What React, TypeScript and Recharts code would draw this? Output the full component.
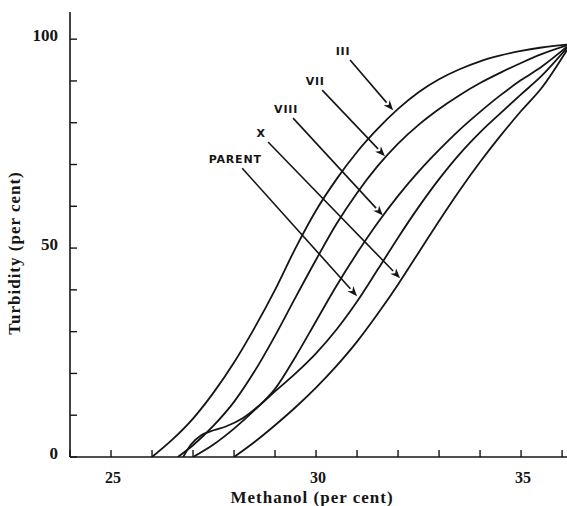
import React from 'react';
import { LineChart, Line, XAxis, YAxis, ReferenceLine } from 'recharts';

// Methanol (per cent) / Turbidity (per cent) for each fraction
const III_X = [26.0, 26.5, 27.0, 27.5, 28.0, 28.5, 29.0, 29.5, 30.0, 30.5, 31.0, 31.5, 32.0, 32.5, 33.0, 33.5, 34.0, 34.5, 35.0, 35.5, 36.12];
const III_Y = [0, 4.2, 9.2, 15.4, 22.6, 30.9, 40.0, 50.0, 59.0, 66.5, 73.0, 78.5, 83.3, 87.3, 90.4, 92.8, 94.7, 96.1, 97.2, 98.0, 98.7];

const VII_X = [26.63, 27.0, 27.5, 28.0, 28.5, 29.0, 29.5, 30.0, 30.5, 31.0, 31.5, 32.0, 32.5, 33.0, 33.5, 34.0, 34.5, 35.0, 35.5, 36.12];
const VII_Y = [0, 2.8, 7.5, 13.2, 20.5, 29.0, 38.2, 47.2, 55.8, 63.2, 69.6, 75.0, 79.5, 83.3, 86.6, 89.5, 92.0, 94.3, 96.4, 98.5];

const VIII_X = [27.0, 27.5, 28.0, 28.5, 29.0, 29.5, 30.0, 30.5, 31.0, 31.5, 32.0, 32.5, 33.0, 33.5, 34.0, 34.5, 35.0, 35.5, 36.12];
const VIII_Y = [0, 3.0, 6.8, 11.2, 16.3, 24.0, 32.5, 41.0, 48.8, 56.0, 62.5, 68.3, 73.5, 78.3, 82.6, 86.6, 90.2, 93.4, 98.2];

const PARENT_X = [26.76, 26.95, 27.2, 27.5, 27.8, 28.2, 28.6, 29.0, 29.5, 30.0, 30.5, 31.0, 31.5, 32.0, 32.5, 33.0, 33.5, 34.0, 34.5, 35.0, 35.5, 36.12];
const PARENT_Y = [0, 3.0, 5.2, 6.4, 7.3, 9.2, 12.2, 15.7, 20.0, 24.8, 30.5, 37.2, 44.8, 52.5, 59.8, 66.5, 72.5, 77.7, 82.3, 86.8, 91.2, 97.9];

const X_X = [28.0, 28.5, 29.0, 29.5, 30.0, 30.5, 31.0, 31.5, 32.0, 32.5, 33.0, 33.5, 34.0, 34.5, 35.0, 35.5, 36.12];
const X_Y = [0, 3.6, 7.6, 11.9, 16.6, 21.8, 27.6, 34.2, 41.3, 48.9, 56.5, 63.8, 70.6, 76.9, 82.8, 88.3, 97.4];

const X_TICKS = [24, 25, 26, 27, 28, 29, 30, 31, 32, 33, 34, 35, 36];
const X_LABELED = [25, 30, 35];
const Y_TICKS = [0, 10, 20, 30, 40, 50, 60, 70, 80, 90, 100];
const Y_LABELED = [0, 50, 100];

// annotation labels: name, arrow start (x,y), arrow tip (x,y)
const ANN_NAMES = ['III', 'VII', 'VIII', 'X', 'PARENT'];
const ANN_START_X = [30.83, 30.15, 29.44, 28.83, 28.2];
const ANN_START_Y = [95.0, 87.8, 81.1, 75.4, 69.1];
const ANN_TIP_X = [31.88, 31.68, 31.63, 32.05, 31.0];
const ANN_TIP_Y = [83.0, 72.0, 57.8, 42.8, 38.5];

const zip = (xs: number[], ys: number[]) => xs.map((x, i) => ({ x, y: ys[i] }));
const SERIES = [
  { name: 'III', data: zip(III_X, III_Y) },
  { name: 'VII', data: zip(VII_X, VII_Y) },
  { name: 'VIII', data: zip(VIII_X, VIII_Y) },
  { name: 'PARENT', data: zip(PARENT_X, PARENT_Y) },
  { name: 'X', data: zip(X_X, X_Y) },
];

const INK = '#151515';
const SERIF = '"Liberation Serif", "DejaVu Serif", serif';

const XTick = (props: any) => {
  const { x, y, payload } = props;
  const v = payload.value;
  return (
    <g>
      <line x1={x} y1={y} x2={x} y2={y - 7} stroke={INK} strokeWidth={1.4} />
      {X_LABELED.includes(v) && (
        <text x={x + 2} y={y + 26} textAnchor="middle" fontFamily={SERIF} fontWeight="bold" fontSize={16} fill={INK}>
          {v}
        </text>
      )}
    </g>
  );
};

const YTick = (props: any) => {
  const { x, y, payload } = props;
  const v = payload.value;
  return (
    <g>
      <line x1={x} y1={y} x2={x + 7} y2={y} stroke={INK} strokeWidth={1.4} />
      {Y_LABELED.includes(v) && (
        <text x={x - 12} y={y + 2} textAnchor="end" fontFamily={SERIF} fontWeight="bold" fontSize={17} fill={INK}>
          {v}
        </text>
      )}
    </g>
  );
};

const Arrow = (props: any) => {
  const { x1, y1, x2, y2, label } = props;
  const ang = Math.atan2(y2 - y1, x2 - x1);
  const L = 10;
  const W = 4;
  const bx = x2 - L * Math.cos(ang);
  const by = y2 - L * Math.sin(ang);
  const px = -Math.sin(ang) * W;
  const py = Math.cos(ang) * W;
  return (
    <g>
      <line x1={x1} y1={y1} x2={bx} y2={by} stroke={INK} strokeWidth={1.6} />
      <polygon
        points={`${x2},${y2} ${bx + px},${by + py} ${bx + 3 * Math.cos(ang)},${by + 3 * Math.sin(ang)} ${bx - px},${by - py}`}
        fill={INK}
      />
      <text
        x={x1 - 7}
        y={y1 - 5}
        textAnchor="middle"
        fontFamily='"DejaVu Sans", sans-serif'
        fontWeight="bold"
        fontSize={11}
        letterSpacing={0.8}
        fill={INK}
      >
        {label}
      </text>
    </g>
  );
};

export default function App() {
  return (
    <div style={{ position: 'absolute', left: 0, top: 0, background: '#fff' }}>
      <LineChart width={567} height={506} margin={{ top: 12, right: 0, bottom: 0, left: 10 }}>
        <XAxis
          type="number"
          dataKey="x"
          domain={[24, 36.12]}
          allowDataOverflow
          ticks={X_TICKS}
          interval={0}
          tickSize={0}
          tickMargin={0}
          tickLine={false}
          tick={<XTick />}
          height={49}
          axisLine={{ stroke: INK, strokeWidth: 1.6 }}
          label={{
            content: () => (
              <text
                x={312}
                y={503}
                textAnchor="middle"
                fontFamily={SERIF}
                fontWeight="bold"
                fontSize={17}
                letterSpacing={1.0}
                fill={INK}
              >
                Methanol (per cent)
              </text>
            ),
          }}
        />
        <YAxis
          type="number"
          dataKey="y"
          domain={[0, 106.5]}
          allowDataOverflow
          ticks={Y_TICKS}
          interval={0}
          tickSize={0}
          tickMargin={0}
          tickLine={false}
          tick={<YTick />}
          width={60}
          axisLine={{ stroke: INK, strokeWidth: 1.6 }}
          label={{
            content: () => (
              <text
                x={20}
                y={253}
                transform="rotate(-90 20 253)"
                textAnchor="middle"
                fontFamily={SERIF}
                fontWeight="bold"
                fontSize={17}
                letterSpacing={1.0}
                fill={INK}
              >
                Turbidity (per cent)
              </text>
            ),
          }}
        />
        {SERIES.map((s) => (
          <Line
            key={s.name}
            name={s.name}
            data={s.data}
            dataKey="y"
            type="monotone"
            stroke={INK}
            strokeWidth={1.8}
            dot={false}
            activeDot={false}
            isAnimationActive={false}
          />
        ))}
        {ANN_NAMES.map((n, i) => (
          <ReferenceLine
            key={n}
            segment={[
              { x: ANN_START_X[i], y: ANN_START_Y[i] },
              { x: ANN_TIP_X[i], y: ANN_TIP_Y[i] },
            ]}
            ifOverflow="visible"
            shape={(p: any) => <Arrow {...p} label={n} />}
          />
        ))}
      </LineChart>
    </div>
  );
}
